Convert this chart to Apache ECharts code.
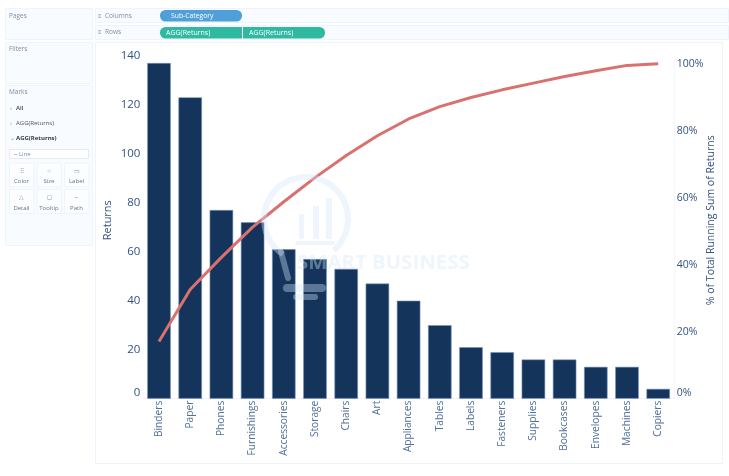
<!DOCTYPE html>
<html><head><meta charset="utf-8">
<style>html,body{margin:0;padding:0;background:#fff}#c{width:729px;height:476px}</style>
<script src="https://cdn.jsdelivr.net/npm/echarts@6/dist/echarts.min.js"></script></head>
<body><div id="c"></div>
<script>
const categories=['Binders','Paper','Phones','Furnishings','Accessories','Storage','Chairs','Art','Appliances','Tables','Labels','Fasteners','Supplies','Bookcases','Envelopes','Machines','Copiers'];
const returnsValues=[137,123,77,72,61,57,53,47,40,30,21,19,16,16,13,13,4];
const runningPct=[17.1,32.6,42.2,51.2,58.8,66,72.6,78.5,83.5,87.2,89.9,92.2,94.2,96.2,97.9,99.5,100];
const FONT='"Open Sans",sans-serif', INK='#33537f', MUTED='#7f8ea3';
const rect=(x,y,w,h,fill,stroke,r,z)=>({type:'rect',z:z||0,silent:true,shape:{x,y,width:w,height:h,r:r||0},style:{fill,stroke:stroke||null,lineWidth:1}});
const text=(x,y,t,size,fill,weight,z,align)=>({type:'text',z:z||2,silent:true,x,y,style:{text:t,font:(weight||'400')+' '+size+'px '+FONT,fill,textVerticalAlign:'middle',textAlign:align||'left'}});
const PANEL='#f8fbff', EDGE='#eef4fc';
const g=[
 rect(5.5,8.5,87,31,PANEL,EDGE),rect(5.5,42.5,87,41,PANEL,EDGE),rect(5.5,85.5,87,160,PANEL,EDGE),
 rect(95.5,8.5,633,14,PANEL,EDGE),rect(95.5,25.5,633,14,PANEL,EDGE),
 rect(95.5,42.5,627,421,'#fff',EDGE),
 text(9,16,'Pages',6.5,MUTED),text(9,49,'Filters',6.5,MUTED),text(9,92,'Marks',6.5,MUTED),
 text(98,16,'≡',6,MUTED),text(105,16,'Columns',6.5,MUTED),text(98,32,'≡',6,MUTED),text(105,32,'Rows',6.5,MUTED),
 rect(160,10,82,11.5,'#4f9fd8',null,5.5,1),text(171,16,'Sub-Category',6.8,'#fff'),
 rect(160,27,82,11.5,'#2fb9a1',null,[5.5,0,0,5.5],1),rect(243,27,82,11.5,'#2fb9a1',null,[0,5.5,5.5,0],1),
 text(166,33,'AGG(Returns)',7,'#fff'),text(249,33,'AGG(Returns)',7,'#fff'),
 text(16,108.5,'All',6,'#3f4a5a','600'),text(16,123.5,'AGG(Returns)',6,'#4a5566'),text(16,138.5,'AGG(Returns)',6,'#2f3a4a','700'),
 text(10,108.5,'›',6,MUTED),text(10,123.5,'›',6,MUTED),text(10,138.5,'⌄',6,MUTED),
 rect(9.5,149.5,79,9,'#fff','#e4ebf5',0,1),text(14,154,'~ Line',6,MUTED),text(83,154,'▾',6,'#55606f',2,'center')
];
[['Color','⠿'],['Size','○'],['Label','▭'],['Detail','△'],['Tooltip','◻'],['Path','~']].forEach((c,i)=>{
 const col=i%3,row=Math.floor(i/3),x=9.5+col*27.5,y=163+row*26.5;
 g.push(rect(x,y,24.5,24,'#fbfdff','#eff4fb',0,1));
 g.push(text(x+12,y+8,c[1],6,MUTED,'400',2,'center'));
 g.push(text(x+12,y+18.5,c[0],6,'#66758a','400',2,'center'));
});
// faint watermark, drawn above the marks
const WM='rgba(214,228,248,0.38)', Z=50;
g.push({type:'arc',z:Z,silent:true,shape:{cx:306,cy:219,r:42,startAngle:2.15,endAngle:0.85,clockwise:true},style:{stroke:WM,lineWidth:6,fill:null}});
g.push({type:'line',z:Z,silent:true,shape:{x1:281,y1:252,x2:288,y2:278},style:{stroke:WM,lineWidth:6,lineCap:'round'}});
g.push(rect(283,284,43,8,WM,null,4,Z),rect(293,294,25,6,WM,null,3,Z));
g.push(rect(299,214,5,25,WM,null,0,Z),rect(313,206,6,33,WM,null,0,Z),rect(326,198,6,41,WM,null,0,Z),rect(295,241,40,4,WM,null,2,Z));
g.push(text(297,263,'SMART BUSINESS',20.4,WM,'700',Z));
const chart=echarts.init(document.getElementById('c'),null,{renderer:'canvas'});
chart.setOption({
 animation:false,textStyle:{fontFamily:FONT},
 graphic:{elements:g},
 grid:{left:143.4,top:55.7,width:530.4,height:343,containLabel:false,outerBoundsMode:'none'},
 xAxis:{type:'category',data:categories,
  axisTick:{show:false},axisLine:{lineStyle:{color:'#f0f3f8',width:1}},
  splitLine:{show:false},
  axisLabel:{rotate:90,interval:0,margin:2,fontSize:10.2,color:'#52719b',fontFamily:FONT}},
 yAxis:[
  {type:'value',min:0,max:140,interval:20,name:'Returns',nameLocation:'middle',nameGap:30,nameMoveOverlap:false,nameRotate:90,
   nameTextStyle:{fontSize:11,color:INK,fontFamily:FONT,padding:[0,0,0,14]},
   axisLine:{show:false},axisTick:{show:false},splitLine:{show:false},
   axisLabel:{fontSize:11.5,color:INK,margin:3,padding:[6,0,0,0],verticalAlignMinLabel:'bottom',verticalAlignMaxLabel:'middle',fontFamily:FONT}},
  {type:'value',min:0,max:102.39,interval:20,position:'right',name:'% of Total Running Sum of Returns',nameLocation:'middle',nameGap:32,nameMoveOverlap:false,nameRotate:90,
   nameTextStyle:{fontSize:10.5,color:INK,fontFamily:FONT,padding:[0,0,0,14]},
   axisLine:{show:true,lineStyle:{color:'#f4f7fb'}},axisTick:{show:false},splitLine:{show:false},
   axisLabel:{fontSize:10.5,color:INK,margin:3,padding:[6,0,0,0],showMaxLabel:false,verticalAlignMinLabel:'bottom',formatter:'{value}%',fontFamily:FONT}}
 ],
 series:[
  {type:'bar',data:returnsValues,barWidth:23.5,z:3,itemStyle:{color:'#14345c',borderColor:'#6e94bd',borderWidth:0.6}},
  {type:'line',yAxisIndex:1,data:runningPct,z:5,symbol:'none',lineStyle:{color:'#d9716f',width:3},smooth:false}
 ]
});
</script></body></html>
